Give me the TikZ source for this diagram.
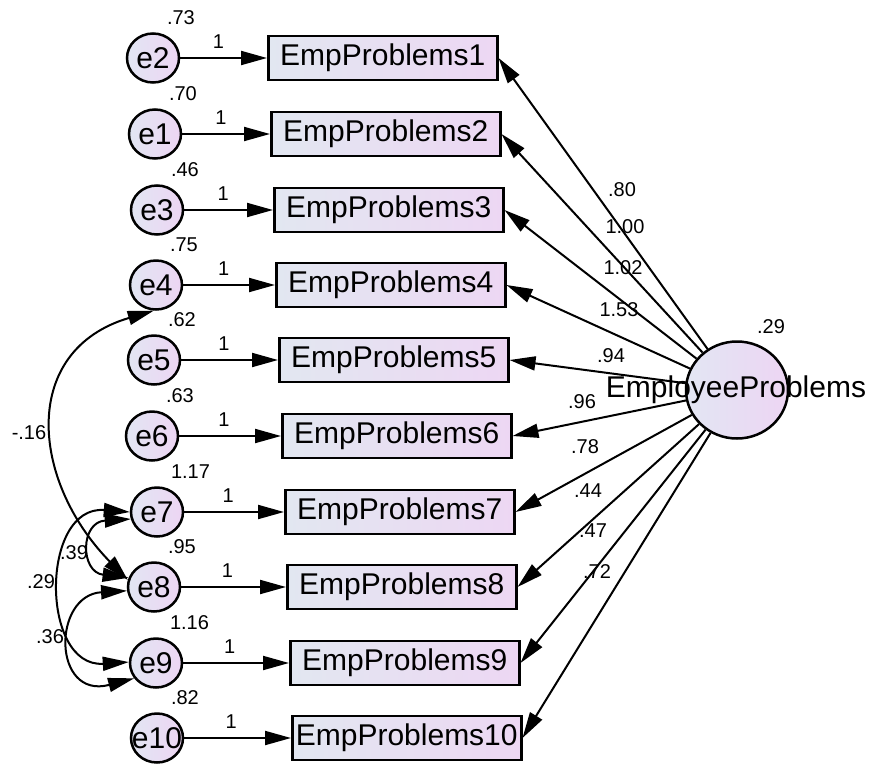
\documentclass[tikz,border=0pt]{standalone}
\usepackage{fontspec}
\setmainfont{Liberation Sans}
\usetikzlibrary{arrows.meta,shapes.geometric}
\definecolor{boxA}{RGB}{226,231,241}
\definecolor{boxB}{RGB}{237,215,243}
\definecolor{circA}{RGB}{226,230,243}
\definecolor{circB}{RGB}{237,213,243}
\begin{document}
\begin{tikzpicture}[x=1pt,y=-1pt,line width=2pt,
  tip/.style={-{Triangle[length=26pt,width=14pt]}},
  cov/.style={{Triangle[length=26pt,width=14pt]}-{Triangle[length=26pt,width=14pt]}},
  obsbox/.style={draw,line width=2.5pt,minimum width=229pt,minimum height=44pt,inner sep=0pt,
    left color=boxA,right color=boxB,font=\fontsize{30}{34}\selectfont,anchor=west},
  errc/.style={ellipse,draw,line width=2.5pt,minimum width=52pt,minimum height=49pt,inner sep=0pt,
    left color=circA,right color=circB},
  latc/.style={ellipse,draw,line width=2.5pt,minimum width=102pt,minimum height=97pt,inner sep=0pt,
    left color=circA,right color=circB},
  etext/.style={font=\fontsize{30}{34}\selectfont,inner sep=0pt},
  small/.style={font=\fontsize{20}{24}\selectfont,inner sep=0pt}]
\fill[white] (0,0) rectangle (875,766);
\useasboundingbox (0,0) rectangle (875,766);
\node[latc] (lat) at (737,390) {};
\foreach \i/\e/\y/\ex/\bx/\v in {1/e2/58/153/267/.73, 2/e1/134/155/270/.70, 3/e3/210/157/273/.46,
  4/e4/285/156/275/.75, 5/e5/360/154/278/.62, 6/e6/436/152/281/.63, 7/e7/512/157/284/1.17,
  8/e8/587/154/286/.95, 9/e9/663/156/289/1.16, 10/e10/738/157/291/.82}
{
  \node[errc,label={[etext]center:\e}] (\e) at (\ex,\y) {};
  \node[obsbox] (b\i) at (\bx,\y) {EmpProblems\i};
  \node[small,anchor=west] (v\e) at (\ex+13,\y-40) {\v};
  \draw[tip] (\e) -- node[small,pos=0.44,anchor=south,yshift=9pt] {1} (b\i);
  \draw[tip] (lat) -- (b\i.east);
}
\node[small] (l1) at (622,190) {.80};
\node[small] (l2) at (625,227) {1.00};
\node[small] (l3) at (623,268) {1.02};
\node[small] (l4) at (619,310) {1.53};
\node[small] (l5) at (611,356) {.94};
\node[small] (l6) at (582,402) {.96};
\node[small] (l7) at (585,447) {.78};
\node[small] (l8) at (588,491) {.44};
\node[small] (l9) at (593,531) {.47};
\node[small] (l10) at (597,572) {.72};
\node[small] (vlat) at (771,327) {.29};
\node[etext] (latname) at (736,390) {EmployeeProblems};
% covariances
\draw[cov] (e4.265) .. controls (20,350) and (30,480) .. (e8.165);
\draw[cov] (e7.195) .. controls (80,522) and (80,572) .. (e8.160);
\draw[cov] (e7.180) .. controls (40,505) and (40,668) .. (e9.178);
\draw[cov] (e8.188) .. controls (52,595) and (52,700) .. (e9.215);
\node[small] (c1) at (29,433) {-.16};
\node[small] (c2) at (74,553) {.39};
\node[small] (c3) at (41,582) {.29};
\node[small] (c4) at (50,637) {.36};
\end{tikzpicture}
\end{document}
